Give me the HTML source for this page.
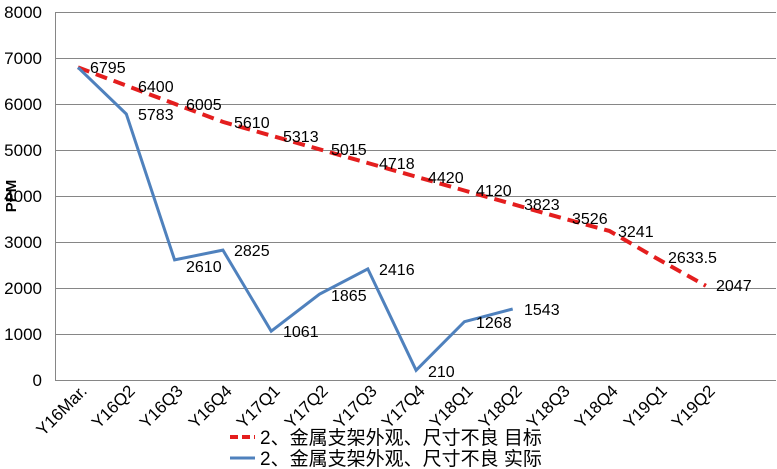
<!DOCTYPE html>
<html><head><meta charset="utf-8"><style>
body{margin:0;background:#fff;}
svg{display:block;font-family:"Liberation Sans","Noto Sans CJK SC",sans-serif;}
</style></head><body>
<svg width="777" height="469" viewBox="0 0 777 469">
<g stroke="#868686" stroke-width="1">
<line x1="55" y1="12.5" x2="776" y2="12.5"/>
<line x1="55" y1="58.5" x2="776" y2="58.5"/>
<line x1="55" y1="104.5" x2="776" y2="104.5"/>
<line x1="55" y1="150.5" x2="776" y2="150.5"/>
<line x1="55" y1="196.5" x2="776" y2="196.5"/>
<line x1="55" y1="242.5" x2="776" y2="242.5"/>
<line x1="55" y1="288.5" x2="776" y2="288.5"/>
<line x1="55" y1="334.5" x2="776" y2="334.5"/>
<line x1="55" y1="380.5" x2="776" y2="380.5"/>
<line x1="55.5" y1="12" x2="55.5" y2="380"/>
</g>
<g font-size="17" text-anchor="end" fill="#000">
<text x="42" y="18">8000</text><text x="42" y="64">7000</text><text x="42" y="110">6000</text>
<text x="42" y="156">5000</text><text x="42" y="202">4000</text><text x="42" y="248">3000</text>
<text x="42" y="294">2000</text><text x="42" y="340">1000</text><text x="42" y="386">0</text>
</g>
<text transform="translate(16,196) rotate(-90)" font-size="15" font-weight="bold" text-anchor="middle">PPM</text>
<polyline fill="none" stroke="#e41e1e" stroke-width="4" stroke-dasharray="12,7" points="78,67.4 126.3,85.6 174.6,103.8 222.9,121.9 271.2,135.6 319.5,149.3 367.8,163 416.1,176.7 464.4,190.5 512.7,204.1 561,217.8 609.3,230.9 657.6,258.9 705.9,285.8"/>
<polyline fill="none" stroke="#4f81bd" stroke-width="3" points="78,67.4 126.3,114 174.6,259.9 222.9,250.1 271.2,331.2 319.5,294.2 367.8,268.9 416.1,370.3 464.4,321.7 512.7,309"/>
<g font-size="16" fill="#000">
<text x="90" y="73">6795</text><text x="138" y="92">6400</text><text x="186" y="110">6005</text>
<text x="234" y="128">5610</text><text x="283" y="142">5313</text><text x="331" y="155">5015</text>
<text x="379" y="169">4718</text><text x="428" y="183">4420</text><text x="476" y="196">4120</text>
<text x="524" y="210">3823</text><text x="572" y="224">3526</text><text x="618" y="237">3241</text>
<text x="668" y="263">2633.5</text><text x="716" y="291">2047</text>
<text x="138" y="120">5783</text><text x="186" y="272">2610</text><text x="234" y="256">2825</text>
<text x="283" y="337">1061</text><text x="331" y="301">1865</text><text x="379" y="275">2416</text>
<text x="428" y="377">210</text><text x="476" y="328">1268</text><text x="524" y="315">1543</text>
</g>
<g font-size="17" text-anchor="end" fill="#000">
<text transform="translate(88,392) rotate(-45)">Y16Mar.</text>
<text transform="translate(136,392) rotate(-45)">Y16Q2</text>
<text transform="translate(184,392) rotate(-45)">Y16Q3</text>
<text transform="translate(233,392) rotate(-45)">Y16Q4</text>
<text transform="translate(281,392) rotate(-45)">Y17Q1</text>
<text transform="translate(329,392) rotate(-45)">Y17Q2</text>
<text transform="translate(378,392) rotate(-45)">Y17Q3</text>
<text transform="translate(426,392) rotate(-45)">Y17Q4</text>
<text transform="translate(474,392) rotate(-45)">Y18Q1</text>
<text transform="translate(523,392) rotate(-45)">Y18Q2</text>
<text transform="translate(571,392) rotate(-45)">Y18Q3</text>
<text transform="translate(619,392) rotate(-45)">Y18Q4</text>
<text transform="translate(668,392) rotate(-45)">Y19Q1</text>
<text transform="translate(716,392) rotate(-45)">Y19Q2</text>
</g>
<line x1="230" y1="437" x2="255" y2="437" stroke="#e41e1e" stroke-width="4" stroke-dasharray="8,4"/>
<text x="260" y="444" font-size="19">2、金属支架外观、尺寸不良 目标</text>
<line x1="230" y1="458" x2="255" y2="458" stroke="#4f81bd" stroke-width="3"/>
<text x="260" y="465" font-size="19">2、金属支架外观、尺寸不良 实际</text>
</svg>
</body></html>
